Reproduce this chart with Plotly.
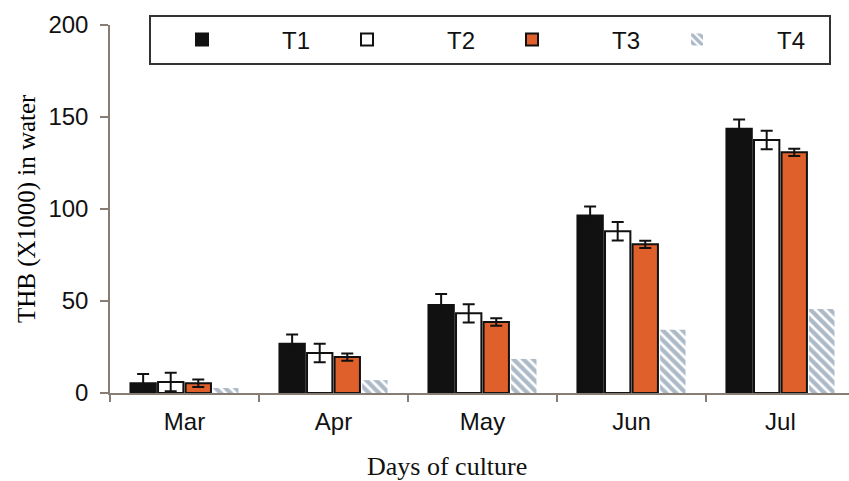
import plotly.graph_objects as go

months = ["Mar", "Apr", "May", "Jun", "Jul"]
series_names = ["T1", "T2", "T3", "T4"]
t1 = [5.3, 26.8, 47.8, 96.4, 143.6]
t2 = [6.0, 21.7, 43.3, 87.9, 137.5]
t3 = [5.3, 19.5, 38.6, 80.8, 130.8]
t4 = [2.7, 7.0, 18.5, 34.4, 45.7]
t1_err = [5, 5, 6, 5, 5]
t2_err = [5, 5, 5, 5, 5]
t3_err = [2, 2, 2, 2, 2]

W, H = 849, 481
L, R, T, B = 110, 0, 25, 88
pw = W - L - R
ph = H - T - B

def px(x):
    return (x - L) / pw

def py(y):
    return (H - B - y) / ph

pad = "\u00a0" * 9
axis_col = "#877d75"

fig = go.Figure()
err_style = dict(type="data", thickness=2, width=6, color="#111111")
fig.add_trace(go.Bar(x=months, y=t1, name=pad + series_names[0],
                     marker=dict(color="#111111", line=dict(color="#111111", width=2)),
                     error_y=dict(array=t1_err, **err_style)))
fig.add_trace(go.Bar(x=months, y=t2, name=pad + series_names[1],
                     marker=dict(color="#ffffff", line=dict(color="#111111", width=2)),
                     error_y=dict(array=t2_err, **err_style)))
fig.add_trace(go.Bar(x=months, y=t3, name=pad + series_names[2],
                     marker=dict(color="#e0602b", line=dict(color="#111111", width=2)),
                     error_y=dict(array=t3_err, **err_style)))
fig.add_trace(go.Bar(x=months, y=t4, name=pad + series_names[3],
                     marker=dict(color="#ffffff", line=dict(width=0),
                                 pattern=dict(shape="\\", fgcolor="#5a7390", bgcolor="#ffffff",
                                              size=7, solidity=0.62))))

fig.update_layout(
    width=W, height=H,
    margin=dict(l=L, r=R, t=T, b=B, pad=0),
    paper_bgcolor="white", plot_bgcolor="white",
    barmode="group", bargap=0.26, bargroupgap=0.08,
    font=dict(family="Liberation Sans, Arial, sans-serif", size=24, color="#111111"),
    showlegend=True,
    legend=dict(orientation="h", x=px(182), y=py(40), xanchor="left", yanchor="middle",
                bgcolor="rgba(0,0,0,0)", borderwidth=0,
                entrywidth=120, entrywidthmode="pixels",
                font=dict(size=24, family="Liberation Sans, Arial, sans-serif")),
    xaxis=dict(range=[-0.5, 4.46], showline=True, linecolor=axis_col, linewidth=1.5,
               ticks="outside", tickson="boundaries", ticklen=7, tickcolor=axis_col,
               tickwidth=1.5, showgrid=False, zeroline=False, ticklabelstandoff=6),
    yaxis=dict(range=[0, 200], tickvals=[0, 50, 100, 150, 200], showline=True,
               linecolor=axis_col, linewidth=1.5, ticks="outside", ticklen=8,
               tickcolor=axis_col, tickwidth=1.5, showgrid=False, zeroline=False,
               ticklabelstandoff=7),
    shapes=[dict(type="rect", xref="paper", yref="paper",
                 x0=px(150), x1=px(830), y0=py(64), y1=py(16),
                 line=dict(color="#333333", width=2), fillcolor="rgba(0,0,0,0)", layer="below")],
    annotations=[
        dict(text="THB (X1000) in water", xref="paper", yref="paper", x=px(27), y=py(209),
             xanchor="center", yanchor="middle", textangle=-90, showarrow=False,
             font=dict(family="Liberation Serif, Times New Roman, serif", size=25, color="#000000")),
        dict(text="Days of culture", xref="paper", yref="paper", x=px(447), y=py(466),
             xanchor="center", yanchor="middle", showarrow=False,
             font=dict(family="Liberation Serif, Times New Roman, serif", size=26, color="#111111")),
    ],
)

fig.write_html("out.html", config={"displayModeBar": False},
               post_script="document.body.style.margin='0';document.body.style.overflow='hidden';")
